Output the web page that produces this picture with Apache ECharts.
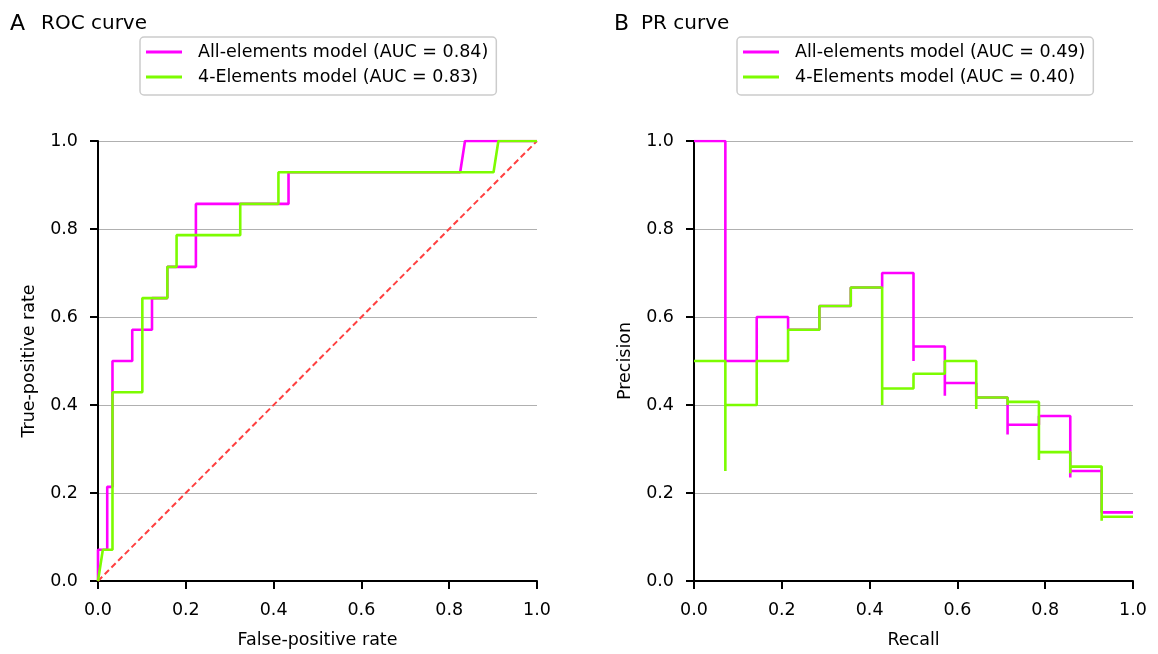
<!DOCTYPE html>
<html>
<head>
<meta charset="utf-8">
<script src="https://cdn.jsdelivr.net/npm/echarts@6/dist/echarts.min.js"></script>
<style>
html,body{margin:0;padding:0;background:#fff;}
#chart{width:1158px;height:654px;}
</style>
</head>
<body>
<div id="chart"></div>
<script>
// ---- Data ----
const axisTicks = [0.0, 0.2, 0.4, 0.6, 0.8, 1.0];

const rocNames = ['All-elements model (AUC = 0.84)', '4-Elements model (AUC = 0.83)'];
const prNames  = ['All-elements model (AUC = 0.49)', '4-Elements model (AUC = 0.40)'];

// ROC points (false-positive rate, true-positive rate)
const rocAllFpr = [0, 0, 0.021, 0.021, 0.033, 0.033, 0.078, 0.078, 0.123, 0.123, 0.158, 0.158, 0.223, 0.223, 0.434, 0.434, 0.825, 0.836, 1.0];
const rocAllTpr = [0, 0.071, 0.071, 0.214, 0.214, 0.500, 0.500, 0.571, 0.571, 0.643, 0.643, 0.714, 0.714, 0.857, 0.857, 0.929, 0.929, 1.0, 1.0];
const roc4Fpr = [0, 0.011, 0.033, 0.033, 0.101, 0.101, 0.158, 0.158, 0.179, 0.179, 0.324, 0.324, 0.411, 0.411, 0.901, 0.912, 1.0];
const roc4Tpr = [0, 0.071, 0.071, 0.429, 0.429, 0.643, 0.643, 0.714, 0.714, 0.786, 0.786, 0.857, 0.857, 0.929, 0.929, 1.0, 1.0];
const chanceX = [0, 1];
const chanceY = [0, 1];

// PR points (recall, precision), ascending recall
const prAllRecall = [0, 0.0714, 0.1429, 0.2143, 0.2857, 0.3571, 0.4286, 0.5, 0.5, 0.5714, 0.5714, 0.6429, 0.7143, 0.7143, 0.7857, 0.8571, 0.8571, 0.9286, 1.0];
const prAllPrec   = [1.0, 1.0, 0.500, 0.600, 0.571, 0.625, 0.667, 0.700, 0.500, 0.533, 0.421, 0.450, 0.417, 0.333, 0.355, 0.375, 0.235, 0.250, 0.156];
const pr4Recall = [0, 0.0714, 0.0714, 0.1429, 0.2143, 0.2857, 0.3571, 0.4286, 0.4286, 0.5, 0.5714, 0.6429, 0.6429, 0.7143, 0.7143, 0.7857, 0.7857, 0.8571, 0.8571, 0.9286, 0.9286, 1.0];
const pr4Prec   = [0.500, 0.500, 0.250, 0.400, 0.500, 0.571, 0.625, 0.667, 0.400, 0.4375, 0.471, 0.500, 0.391, 0.417, 0.400, 0.407, 0.275, 0.293, 0.245, 0.260, 0.137, 0.146];

const MAGENTA = '#ff00ff';
const GREEN = '#7cfc00';
const FONT = 'DejaVu Sans';

function zip(xs, ys) { return xs.map((x, i) => [x, ys[i]]); }

function makeXAxis(gridIndex, name) {
  return {
    type: 'value', gridIndex, min: 0, max: 1, interval: 0.2,
    name, nameLocation: 'middle', nameGap: 50,
    nameTextStyle: { fontFamily: FONT, fontSize: 17.5, color: '#000' },
    axisLine: { show: true, onZero: false, lineStyle: { color: '#000', width: 2 } },
    axisTick: { show: true, length: 8, lineStyle: { color: '#000', width: 2 } },
    axisLabel: { margin: 20, fontFamily: FONT, fontSize: 17.5, color: '#000', formatter: v => v.toFixed(1) },
    splitLine: { show: false }
  };
}
function makeYAxis(gridIndex, name) {
  return {
    type: 'value', gridIndex, min: 0, max: 1, interval: 0.2,
    name, nameLocation: 'middle', nameGap: 60,
    nameTextStyle: { fontFamily: FONT, fontSize: 17.5, color: '#000' },
    axisLine: { show: true, onZero: false, lineStyle: { color: '#000', width: 2 } },
    axisTick: { show: true, length: 8, lineStyle: { color: '#000', width: 2 } },
    axisLabel: { margin: 20, fontFamily: FONT, fontSize: 17.5, color: '#000', formatter: v => v.toFixed(1) },
    splitLine: { show: true, lineStyle: { color: '#b0b0b0', width: 1.2 } }
  };
}
function makeLegend(left, names) {
  return {
    data: names, orient: 'vertical', left, top: 37,
    padding: [6, 8, 9, 6], itemGap: 7,
    itemWidth: 36, itemHeight: 3, icon: 'rect',
    borderColor: '#cccccc', borderWidth: 1.5, borderRadius: 4, backgroundColor: '#fff',
    textStyle: { fontFamily: FONT, fontSize: 17.5, color: '#000', padding: [0, 0, 0, 11] }
  };
}
function lineSeries(name, xi, data, color, step) {
  return {
    name, type: 'line', xAxisIndex: xi, yAxisIndex: xi, data,
    step: step || false, symbol: 'none', showSymbol: false,
    lineStyle: { color, width: 2.6 }, itemStyle: { color },
    clip: true, animation: false
  };
}

const chart = echarts.init(document.getElementById('chart'));
chart.setOption({
  animation: false,
  backgroundColor: '#fff',
  title: [
    { text: 'A', left: 5, top: 8, textStyle: { fontFamily: FONT, fontSize: 22, fontWeight: 'normal', color: '#000' } },
    { text: 'ROC curve', left: 36, top: 9, textStyle: { fontFamily: FONT, fontSize: 20, fontWeight: 'normal', color: '#000' } },
    { text: 'B', left: 609, top: 8, textStyle: { fontFamily: FONT, fontSize: 22, fontWeight: 'normal', color: '#000' } },
    { text: 'PR curve', left: 636, top: 9, textStyle: { fontFamily: FONT, fontSize: 20, fontWeight: 'normal', color: '#000' } }
  ],
  legend: [ makeLegend(140, rocNames), makeLegend(737, prNames) ],
  grid: [
    { left: 98, top: 141, width: 439, height: 448 },
    { left: 694, top: 141, width: 439, height: 448 }
  ],
  xAxis: [ makeXAxis(0, 'False-positive rate'), makeXAxis(1, 'Recall') ],
  yAxis: [ makeYAxis(0, 'True-positive rate'), makeYAxis(1, 'Precision') ],
  series: [
    lineSeries(rocNames[0], 0, zip(rocAllFpr, rocAllTpr), MAGENTA),
    lineSeries(rocNames[1], 0, zip(roc4Fpr, roc4Tpr), GREEN),
    {
      name: 'chance', type: 'line', xAxisIndex: 0, yAxisIndex: 0,
      data: zip(chanceX, chanceY), symbol: 'none',
      lineStyle: { color: '#ff4040', width: 2, type: [6, 3.5] }, animation: false, z: 1
    },
    lineSeries(prNames[0], 1, zip(prAllRecall, prAllPrec), MAGENTA, 'start'),
    lineSeries(prNames[1], 1, zip(pr4Recall, pr4Prec), GREEN, 'start')
  ]
});
</script>
</body>
</html>
